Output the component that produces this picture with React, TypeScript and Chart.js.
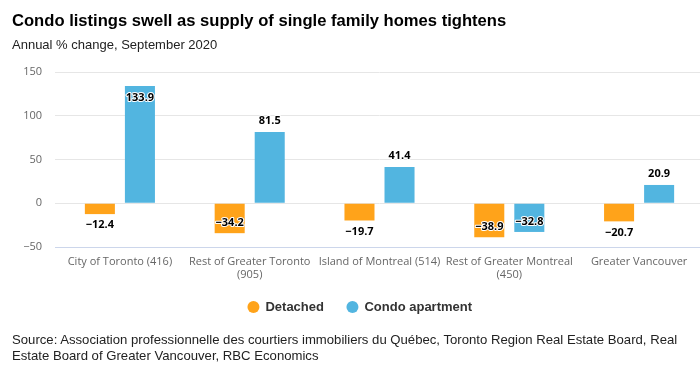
import React, { useEffect, useRef } from "react";
import { Chart, registerables } from "chart.js";

Chart.register(...registerables);

const categories: string[][] = [
  ["City of Toronto (416)"],
  ["Rest of Greater Toronto", "(905)"],
  ["Island of Montreal (514)"],
  ["Rest of Greater Montreal", "(450)"],
  ["Greater Vancouver"],
];
const detached: number[] = [-12.4, -34.2, -19.7, -38.9, -20.7];
const condo: number[] = [133.9, 81.5, 41.4, -32.8, 20.9];
const yMin = -50;
const yMax = 150;
const yStep = 50;

const TITLE = "Condo listings swell as supply of single family homes tightens";
const SUBTITLE = "Annual % change, September 2020";
const SOURCE =
  "Source: Association professionnelle des courtiers immobiliers du Québec, Toronto Region Real Estate Board, Real Estate Board of Greater Vancouver, RBC Economics";

const fmt = (v: number) => (v < 0 ? "\u2212" + Math.abs(v).toFixed(1) : v.toFixed(1));

const valueLabels = {
  id: "valueLabels",
  afterDatasetsDraw(chart: any) {
    const { ctx, chartArea } = chart;
    ctx.save();
    ctx.font = 'bold 11px "Open Sans"';
    ctx.textAlign = "center";
    ctx.textBaseline = "middle";
    ctx.lineJoin = "round";
    chart.data.datasets.forEach((ds: any, di: number) => {
      const meta = chart.getDatasetMeta(di);
      meta.data.forEach((bar: any, i: number) => {
        const v = ds.data[i] as number;
        const txt = fmt(v);
        let y = v < 0 ? bar.y + 11 : bar.y - 11;
        if (y - 7 < chartArea.top) y = bar.y + 12;
        if (y + 7 > chartArea.bottom) y = bar.y - 10;
        ctx.strokeStyle = "#ffffff";
        ctx.lineWidth = 2;
        ctx.strokeText(txt, bar.x, y);
        ctx.fillStyle = "#000000";
        ctx.fillText(txt, bar.x, y);
      });
    });
    ctx.restore();
  },
};

// nudge the legend up so it sits where the reference has it
const legendShift = {
  id: "legendShift",
  afterLayout(chart: any) {
    const lg = chart.legend;
    if (lg) {
      lg.top -= 5.5;
      lg.bottom -= 5.5;
    }
  },
};

export default function App() {
  const ref = useRef<HTMLCanvasElement>(null);
  useEffect(() => {
    document.body.style.margin = "0";
    const chart = new Chart(ref.current!, {
      type: "bar",
      data: {
        labels: categories,
        datasets: [
          {
            label: "Detached",
            data: detached,
            backgroundColor: "#FFA31A",
            borderWidth: 0,
            categoryPercentage: 0.617,
            barPercentage: 0.75,
          },
          {
            label: "Condo apartment",
            data: condo,
            backgroundColor: "#52B5E0",
            borderWidth: 0,
            categoryPercentage: 0.617,
            barPercentage: 0.75,
          },
        ],
      },
      options: {
        responsive: false,
        animation: false,
        devicePixelRatio: 1,
        layout: { padding: { top: 72, bottom: 43, left: 0, right: 0 } },
        plugins: {
          legend: {
            position: "bottom",
            labels: {
              usePointStyle: true,
              pointStyle: "circle",
              boxWidth: 11,
              boxHeight: 8.5,
              padding: 23,
              color: "#333333",
              font: { family: '"Liberation Sans", Arial', size: 13, weight: "bold" },
            },
          },
          tooltip: { enabled: false },
        },
        scales: {
          x: {
            grid: { display: false, drawTicks: false },
            border: { display: true, color: "#ccd6eb", width: 1 },
            ticks: {
              color: "#666666",
              padding: 8,
              maxRotation: 0,
              autoSkip: false,
              font: { family: '"Open Sans"', size: 11 },
            },
            afterFit: (s: any) => {
              s.height = 36;
            },
          },
          y: {
            min: yMin,
            max: yMax,
            grid: { color: "#e6e6e6", drawTicks: false },
            border: { display: false },
            ticks: {
              stepSize: yStep,
              padding: 13,
              color: "#666666",
              font: { family: '"Open Sans"', size: 11 },
              callback: (v: any) => fmt(Number(v)).replace(".0", ""),
            },
            afterFit: (s: any) => {
              s.width = 55;
            },
          },
          y2: {
            position: "right",
            display: true,
            grid: { display: false, drawTicks: false },
            border: { display: false },
            ticks: { display: false },
            afterFit: (s: any) => {
              s.width = 16;
            },
          },
        },
      },
      plugins: [valueLabels, legendShift],
    } as any);
    return () => chart.destroy();
  }, []);

  return (
    <div
      style={{
        position: "fixed",
        left: 0,
        top: 0,
        width: 700,
        height: 372,
        overflow: "hidden",
        background: "#ffffff",
      }}
    >
      <canvas
        ref={ref}
        width={720}
        height={372}
        style={{ position: "absolute", left: 0, top: 0, width: 720, height: 372 }}
      />
      <div
        style={{
          position: "absolute",
          left: 12,
          top: 13.2,
          font: 'bold 16.6px "Liberation Sans", Arial, sans-serif',
          lineHeight: "16px",
          color: "#000000",
          whiteSpace: "nowrap",
        }}
      >
        {TITLE}
      </div>
      <div
        style={{
          position: "absolute",
          left: 12,
          top: 37,
          font: '13px "Liberation Sans", Arial, sans-serif',
          lineHeight: "15px",
          color: "#222222",
          whiteSpace: "nowrap",
        }}
      >
        {SUBTITLE}
      </div>
      <div
        style={{
          position: "absolute",
          left: 12,
          top: 332,
          width: 685,
          font: '13.15px "Liberation Sans", Arial, sans-serif',
          lineHeight: "16px",
          color: "#222222",
        }}
      >
        {SOURCE}
      </div>
    </div>
  );
}
